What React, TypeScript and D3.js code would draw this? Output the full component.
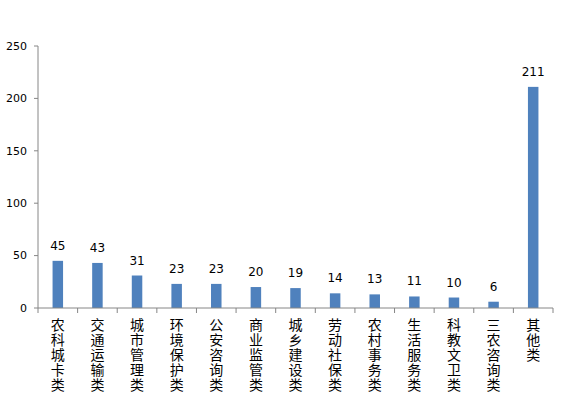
import React from 'react';
import * as d3 from 'd3';

const categories = [
  '农科城卡类', '交通运输类', '城市管理类', '环境保护类', '公安咨询类',
  '商业监管类', '城乡建设类', '劳动社保类', '农村事务类', '生活服务类',
  '科教文卫类', '三农咨询类', '其他类',
];
const counts = [45, 43, 31, 23, 23, 20, 19, 14, 13, 11, 10, 6, 211];
const yTicks = [0, 50, 100, 150, 200, 250];

const width = 576;
const height = 404;
const margin = { top: 46, right: 23, bottom: 96, left: 38 };

const App = () => {
  const x = d3.scaleBand()
    .domain(categories)
    .range([margin.left, width - margin.right]);
  const y = d3.scaleLinear()
    .domain([0, 250])
    .range([height - margin.bottom, margin.top]);

  const barW = 10.5;
  const axisColor = '#868686';
  const y0 = y(0);

  return (
    <svg width={width} height={height}
      style={{ position: 'absolute', left: 0, top: 0, background: '#fff' }}>
      {/* y axis */}
      <line x1={margin.left} x2={margin.left} y1={y(250)} y2={y0} stroke={axisColor} />
      {yTicks.map(t => (
        <g key={t}>
          <line x1={margin.left - 4} x2={margin.left} y1={y(t)} y2={y(t)} stroke={axisColor} />
          <text x={margin.left - 11} y={y(t)} dy="0.35em" textAnchor="end"
            fontFamily="DejaVu Sans" fontSize={11} fill="#000">{t}</text>
        </g>
      ))}

      {/* bars + value labels */}
      {categories.map((c, i) => {
        const cx = x(c)! + x.bandwidth() / 2;
        return (
          <g key={c}>
            <rect x={cx - barW / 2} y={y(counts[i])} width={barW} height={y0 - y(counts[i])} fill="#4F81BD" />
            <text x={cx} y={y(counts[i]) - 11} textAnchor="middle"
              fontFamily="DejaVu Sans" fontSize={12} fill="#000">{counts[i]}</text>
          </g>
        );
      })}

      {/* x axis */}
      <line x1={margin.left} x2={width - margin.right} y1={y0} y2={y0} stroke={axisColor} />
      {categories.map((c, i) => (
        <line key={'t' + i} x1={x(c)!} x2={x(c)!} y1={y0} y2={y0 + 5} stroke={axisColor} />
      ))}
      <line x1={width - margin.right} x2={width - margin.right} y1={y0} y2={y0 + 5} stroke={axisColor} />

      {/* vertical category labels, upright characters */}
      {categories.map(c => {
        const cx = x(c)! + x.bandwidth() / 2;
        return (
          <text key={'l' + c} x={cx} y={y0 + 10}
            style={{ writingMode: 'vertical-rl', textOrientation: 'upright', letterSpacing: '1px' }}
            fontFamily="'Noto Sans CJK SC'" fontSize={14} fill="#000">{c}</text>
        );
      })}
    </svg>
  );
};

export default App;
